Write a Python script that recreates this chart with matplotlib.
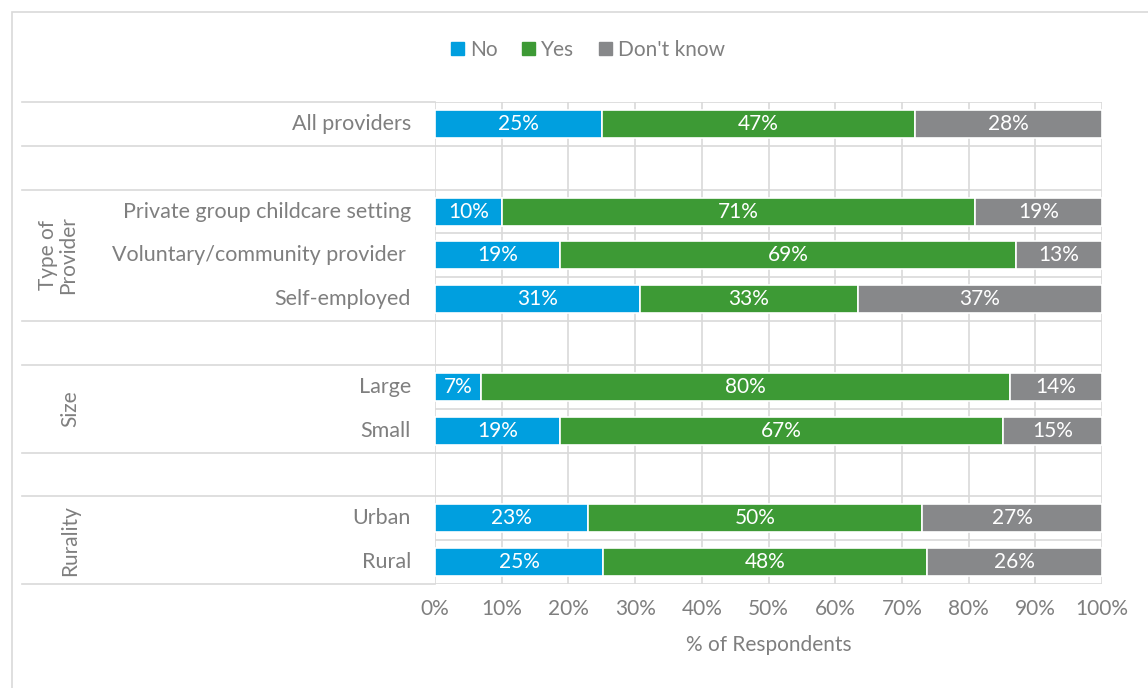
import numpy as np
import matplotlib.pyplot as plt
from matplotlib.patches import Rectangle

plt.rcParams['font.family'] = ['Lato', 'DejaVu Sans']

# rows from top to bottom; empty strings are spacer rows between groups
rows = ['All providers', '',
        'Private group childcare setting', 'Voluntary/community provider ', 'Self-employed', '',
        'Large', 'Small', '',
        'Urban', 'Rural']
no = [25, None, 10, 19, 31, None, 7, 19, None, 23, 25]
yes = [47, None, 71, 69, 33, None, 80, 67, None, 50, 48]
dont_know = [28, None, 19, 13, 37, None, 14, 15, None, 27, 26]

series = ['No', 'Yes', "Don't know"]
colors = ['#009FDF', '#3D9A35', '#87888A']

groups = [('Type of\nProvider', 3), ('Size', 6.5), ('Rurality', 9.5)]
group_x = [58, 70, 70]
group_lines = [-0.5, 0.5, 1.5, 4.5, 5.5, 7.5, 8.5, 10.5]

grid = '#D9D9D9'
txt = '#7F7F7F'

W, H = 1148, 688
fig = plt.figure(figsize=(W / 100, H / 100), dpi=100)
fig.patches.append(Rectangle((12 / W, -0.01), 1.0, 1 - 12 / H + 0.01, transform=fig.transFigure,
                             fill=False, edgecolor=grid, linewidth=1.2))

ax = fig.add_axes([435 / W, 1 - 584 / H, 667 / W, 482 / H])
ax.set_xlim(0, 100)
ax.set_ylim(10.5, -0.5)
for s in ax.spines.values():
    s.set_visible(False)

# vertical gridlines and row separators
for x in np.arange(0, 101, 10):
    ax.axvline(x, color=grid, linewidth=1.2, zorder=0)
for i in range(len(rows) + 1):
    ax.axhline(i - 0.5, color=grid, linewidth=1.2, zorder=0)
yt = ax.get_yaxis_transform()
for b in group_lines:
    ax.plot([(22 - 435) / 667, 0], [b, b], transform=yt, color=grid, linewidth=1.2, clip_on=False)

# 100% stacked bars, each row normalised to its own total
for i, name in enumerate(rows):
    if no[i] is None:
        continue
    vals = [no[i], yes[i], dont_know[i]]
    total = sum(vals)
    left = 0
    for v, c in zip(vals, colors):
        w = v / total * 100
        ax.barh(i, w, left=left, height=0.64, color=c, edgecolor='white', linewidth=1.2, zorder=2)
        ax.text(left + w / 2, i, f'{v}%', ha='center', va='center', color='white', fontsize=15, zorder=3)
        left += w
    ax.text(-0.036, i, name, transform=yt, ha='right', va='center', color=txt, fontsize=15.5)

for (label, y), gx in zip(groups, group_x):
    ax.text((gx - 435) / 667, y, label, transform=yt, rotation=90, ha='center', va='center',
            color=txt, fontsize=15, linespacing=1.0)

ax.set_yticks([])
ax.set_xticks(np.arange(0, 101, 10))
ax.set_xticklabels([f'{x}%' for x in range(0, 101, 10)], color=txt, fontsize=15)
ax.tick_params(axis='x', length=0, pad=11)
ax.set_xlabel('% of Respondents', color=txt, fontsize=15, labelpad=11)

handles = [Rectangle((0, 0), 1, 1, color=c) for c in colors]
fig.legend(handles, series, loc='center', bbox_to_anchor=(588 / W, 1 - 50 / H), ncol=3, frameon=False,
           fontsize=15, labelcolor=txt, handlelength=0.6, handleheight=0.6, handletextpad=0.3,
           columnspacing=1.2)

fig.savefig('out.png', dpi=100)
